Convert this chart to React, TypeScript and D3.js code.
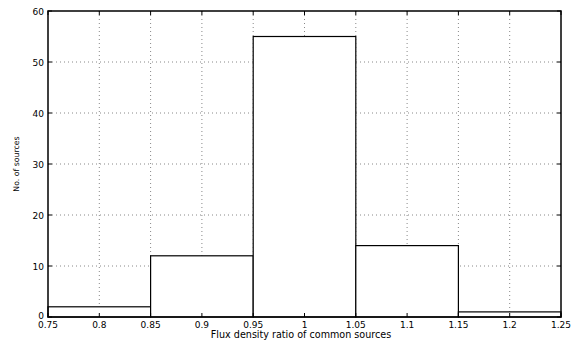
import React from "react";
import * as d3 from "d3";

const binEdges = [0.75, 0.85, 0.95, 1.05, 1.15, 1.25];
const counts = [2, 12, 55, 14, 1];
const xTicks = [0.75, 0.8, 0.85, 0.9, 0.95, 1, 1.05, 1.1, 1.15, 1.2, 1.25];
const yTicks = [0, 10, 20, 30, 40, 50, 60];
const xLabel = "Flux density ratio of common sources";
const yLabel = "No. of sources";

export default function App() {
  const W = 579, H = 347;
  const L = 48, R = 561, T = 11, B = 317;
  const x = d3.scaleLinear().domain([0.75, 1.25]).range([L, R]);
  const y = d3.scaleLinear().domain([0, 60]).range([B, T]);
  const font = "'DejaVu Sans', Verdana, sans-serif";
  return (
    <svg width={W} height={H} style={{ position: "absolute", left: 0, top: 0, background: "#fff" }}>
      {/* grid */}
      {xTicks.slice(1, -1).map((t) => (
        <line key={"gx" + t} x1={x(t)} x2={x(t)} y1={T} y2={B} stroke="#888" strokeWidth={1} strokeDasharray="1,3" />
      ))}
      {yTicks.slice(1, -1).map((t) => (
        <line key={"gy" + t} x1={L} x2={R} y1={y(t)} y2={y(t)} stroke="#888" strokeWidth={1} strokeDasharray="1,3" />
      ))}
      {/* bars */}
      {counts.map((c, i) => (
        <rect key={"b" + i} x={x(binEdges[i])} y={y(c)} width={x(binEdges[i + 1]) - x(binEdges[i])} height={y(0) - y(c)}
          fill="#fff" stroke="#000" strokeWidth={1.2} />
      ))}
      {/* ticks */}
      {xTicks.map((t) => (
        <g key={"tx" + t}>
          <line x1={x(t)} x2={x(t)} y1={B} y2={B - 4} stroke="#000" />
          <line x1={x(t)} x2={x(t)} y1={T} y2={T + 4} stroke="#000" />
          <text x={x(t)} y={328} textAnchor="middle" fontSize={9} fontFamily={font}>{t}</text>
        </g>
      ))}
      {yTicks.map((t) => (
        <g key={"ty" + t}>
          <line x1={L} x2={L + 4} y1={y(t)} y2={y(t)} stroke="#000" />
          <line x1={R} x2={R - 4} y1={y(t)} y2={y(t)} stroke="#000" />
          <text x={44} y={t === 0 ? y(t) + 2 : y(t) + 3.5} textAnchor="end" fontSize={9} fontFamily={font}>{t}</text>
        </g>
      ))}
      {/* box */}
      <rect x={L} y={T} width={R - L} height={B - T} fill="none" stroke="#000" strokeWidth={1.5} />
      <text x={301} y={338} textAnchor="middle" fontSize={9.6} fontFamily={font}>{xLabel}</text>
      <text transform={`translate(19,164) rotate(-90)`} textAnchor="middle" fontSize={7.8} fontFamily={font}>{yLabel}</text>
    </svg>
  );
}
